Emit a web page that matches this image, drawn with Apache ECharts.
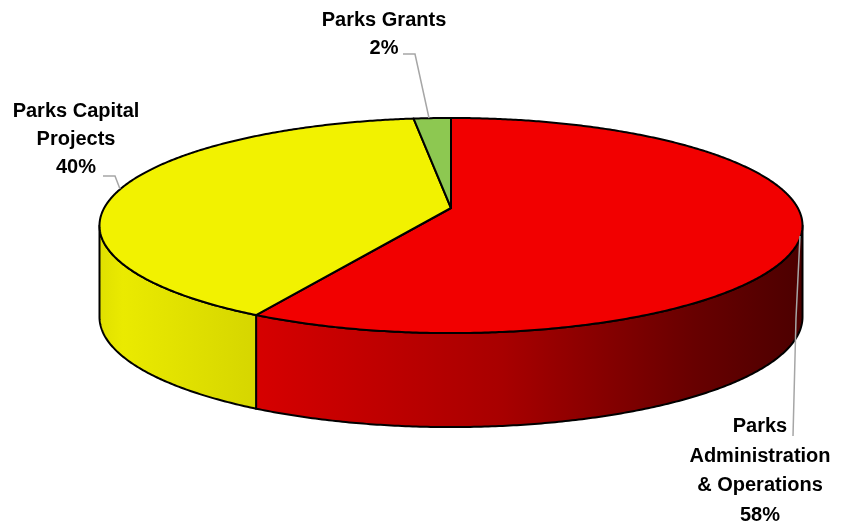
<!DOCTYPE html>
<html><head><meta charset="utf-8">
<script src="https://cdn.jsdelivr.net/npm/echarts@6/dist/echarts.min.js"></script>
<style>html,body{margin:0;padding:0;background:#fff}#c{width:841px;height:532px}</style>
</head><body><div id="c"></div>
<script>
// ---- data ----
const categories = ['Parks Administration & Operations', 'Parks Capital Projects', 'Parks Grants'];
const values = [58, 40, 2];
const labelNames = ['Parks\nAdministration\n& Operations', 'Parks Capital\nProjects', 'Parks Grants'];

// ---- styles / layout ----
const topColors = ['#F20000', '#F2F200', '#8DC851'];
const sideStops = [
  [[0, '#D60000'], [0.45, '#A80000'], [0.8, '#680000'], [1, '#4C0000']],
  [[0, '#E0E000'], [0.15, '#EAEA00'], [1, '#D6D600']],
  [[0, '#7FB845'], [1, '#5F8F30']]
];
const labelLayout = [
  { x: 760, y: 412, lh: 29.5, line: [[800, 236], [796, 318], [793, 436]] },
  { x: 76, y: 97, lh: 28, line: [[103, 176], [115, 176], [120, 189]] },
  { x: 384, y: 6, lh: 28, line: [[403, 54], [415, 54], [429, 118]] }
];
const G = { cx: 451, cy: 208, A: 346.8, B: 104.7, p: 0.163 };

function proj(deg, down) {
  const t = deg * Math.PI / 180;
  const u = Math.sin(t), v = Math.cos(t);
  const w = 1 + G.p * v;
  const x = G.cx + G.A * u / w;
  let y = G.cy - G.B * v / w;
  if (down) y += 91 - 3 * v;
  return [x, y];
}
function arcPts(a, b, down) {
  const n = Math.max(2, Math.ceil((b - a) / 0.5) + 1);
  const pts = [];
  for (let k = 0; k < n; k++) pts.push(proj(a + (b - a) * k / (n - 1), down));
  return pts;
}

const total = values.reduce((s, v) => s + v, 0);

function renderItem(params, api) {
  const i = params.dataIndex;
  let before = 0;
  for (let k = 0; k < i; k++) before += values[k];
  const a0 = before / total * 360;
  const a1 = (before + api.value(0)) / total * 360;
  const children = [];
  const visL = Math.acos(-G.p) * 180 / Math.PI;
  const visR = 360 - visL;
  const s0 = Math.max(a0, visL), s1 = Math.min(a1, visR);
  if (s1 > s0) {
    const topArc = arcPts(s0, s1, false);
    const botArc = arcPts(s0, s1, true).reverse();
    const pts = topArc.concat(botArc);
    const xs = pts.map(p => p[0]);
    const minX = Math.min.apply(null, xs), maxX = Math.max.apply(null, xs);
    children.push({
      type: 'polygon', z2: 1,
      shape: { points: pts },
      style: {
        fill: { type: 'linear', x: minX, y: 0, x2: maxX, y2: 0, global: true,
          colorStops: sideStops[i].map(s => ({ offset: s[0], color: s[1] })) },
        stroke: '#000', lineWidth: 2, lineJoin: 'round'
      }
    });
  }
  const topPts = [[G.cx, G.cy]].concat(arcPts(a0, a1, false));
  children.push({
    type: 'polygon', z2: 2,
    shape: { points: topPts },
    style: { fill: topColors[i], stroke: '#000', lineWidth: 2, lineJoin: 'round' }
  });
  const L = labelLayout[i];
  children.push({
    type: 'polyline', z2: 3,
    shape: { points: L.line },
    style: { stroke: '#A6A6A6', lineWidth: 1.5, fill: null }
  });
  const pct = Math.round(api.value(0) / total * 100) + '%';
  children.push({
    type: 'text', z2: 4,
    style: {
      text: labelNames[i] + '\n' + pct,
      x: L.x, y: L.y, align: 'center', verticalAlign: 'top',
      font: 'bold 20px "Liberation Sans", Arial, sans-serif',
      lineHeight: L.lh, fill: '#000'
    }
  });
  return { type: 'group', children: children };
}

const chart = echarts.init(document.getElementById('c'), null, { renderer: 'canvas' });
chart.setOption({
  animation: false,
  backgroundColor: '#fff',
  series: [{
    type: 'custom',
    coordinateSystem: 'none',
    renderItem: renderItem,
    data: values.map((v, i) => ({ value: v, name: categories[i] }))
  }]
});
</script>
</body></html>
